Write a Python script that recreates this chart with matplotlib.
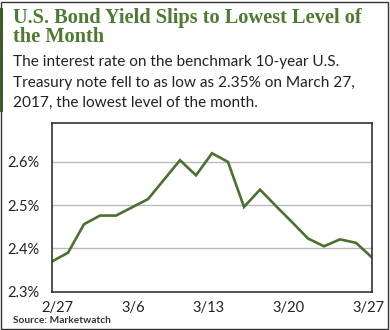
import matplotlib
matplotlib.use("Agg")
import matplotlib.pyplot as plt
from matplotlib.patches import Rectangle
from matplotlib.transforms import ScaledTranslation

# Data (trading days, 2/27 - 3/27 2017)
dates = ["2/27", "2/28", "3/1", "3/2", "3/3", "3/6", "3/7", "3/8", "3/9", "3/10",
         "3/13", "3/14", "3/15", "3/16", "3/17", "3/20", "3/21", "3/22", "3/23", "3/24", "3/27"]
yields = [2.370, 2.390, 2.456, 2.476, 2.476, 2.495, 2.514, 2.559, 2.604, 2.569,
          2.620, 2.600, 2.496, 2.536, 2.498, 2.461, 2.423, 2.405, 2.421, 2.413, 2.379]
tick_labels = ["2/27", "3/6", "3/13", "3/20", "3/27"]
y_ticks = [2.3, 2.4, 2.5, 2.6]
y_tick_labels = ["2.3%", "2.4%", "2.5%", "2.6%"]
title_lines = ["U.S. Bond Yield Slips to Lowest Level of", "the Month"]
subtitle_lines = ["The interest rate on the benchmark 10-year U.S.",
                  "Treasury note fell to as low as 2.35% on March 27,",
                  "2017, the lowest level of the month."]

W, H = 390, 330
fig = plt.figure(figsize=(W / 100, H / 100), dpi=100)
fig.patch.set_facecolor("white")

green = "#4c7030"
title_green = "#4f7a32"
dark = "#222222"

# outer frame
fig.patches.append(Rectangle((0.5 / W, 1.5 / H), (W - 3) / W, (H - 3) / H, transform=fig.transFigure,
                             fill=False, edgecolor="#333333", linewidth=1.0))
# left accent bar
fig.patches.append(Rectangle((0, 1 - 112 / H), 3.5 / W, (112 - 8) / H, transform=fig.transFigure,
                             facecolor="#3f5e26", edgecolor="none"))

for i, line in enumerate(title_lines):
    fig.text(13 / W, 1 - (23 + 19.5 * i) / H, line,
             family="Liberation Serif", weight="bold", fontsize=14.7, color=title_green,
             va="baseline", ha="left")

for i, line in enumerate(subtitle_lines):
    fig.text(13 / W, 1 - (66 + 20.5 * i) / H, line,
             family="Lato", fontsize=11.1, color=dark, va="baseline", ha="left")

ax = fig.add_axes([52 / W, 1 - 291.7 / H, (372 - 52) / W, (291.7 - 123) / H])
x = list(range(len(dates)))
ax.plot(x, yields, color=green, linewidth=1.9, solid_joinstyle="miter")
ax.set_xlim(0, len(dates) - 1)
ax.set_ylim(2.3, 2.69)
ax.set_yticks(y_ticks)
ax.set_yticklabels(y_tick_labels)
ax.set_xticks([dates.index(t) for t in tick_labels])
ax.set_xticklabels(tick_labels)
for yv in y_ticks[1:]:
    ax.axhline(yv, color="#bbbbbb", linewidth=1.0, zorder=0)
for s in ax.spines.values():
    s.set_color("#333333")
    s.set_linewidth(1.2)
ax.tick_params(axis="both", length=0, labelsize=10.5, labelcolor=dark)
ax.tick_params(axis="y", pad=9)
ax.tick_params(axis="x", pad=7)
for lab in ax.get_yticklabels() + ax.get_xticklabels():
    lab.set_family("Lato")
shifts = [5, 1, -4, -4, -4]
for lab, dx in zip(ax.get_xticklabels(), shifts):
    lab.set_transform(lab.get_transform() + ScaledTranslation(dx / 100, 0, fig.dpi_scale_trans))

fig.text(13 / W, 1 - 323 / H, "Source: Marketwatch", family="Lato", weight="bold",
         fontsize=7.3, color="#333333", va="baseline", ha="left")

fig.savefig("out.png", dpi=100, facecolor="white")
